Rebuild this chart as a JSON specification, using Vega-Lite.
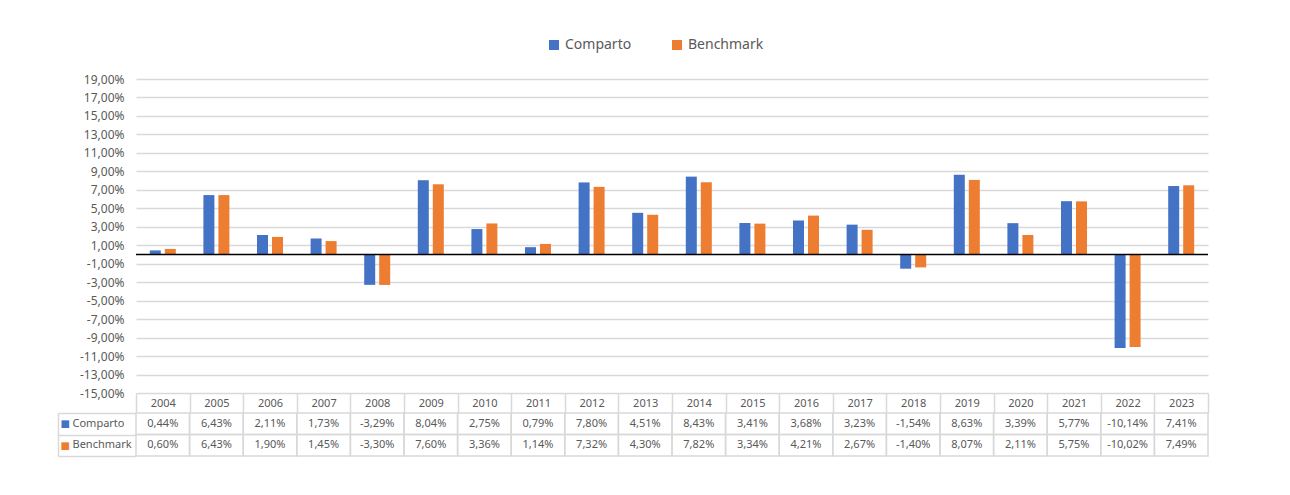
{
  "$schema": "https://vega.github.io/schema/vega-lite/v6.json",
  "padding": {"left": 57, "top": 38, "right": 5, "bottom": 5},
  "background": "white",
  "config": {
    "font": "Noto Sans",
    "view": {"stroke": null},
    "axis": {"labelColor": "#595959", "labelFont": "Noto Sans", "labelFontSize": 11}
  },
  "datasets": {
    "returns": [
      {"year": "2004", "series": "Comparto", "value": 0.44},
      {"year": "2005", "series": "Comparto", "value": 6.43},
      {"year": "2006", "series": "Comparto", "value": 2.11},
      {"year": "2007", "series": "Comparto", "value": 1.73},
      {"year": "2008", "series": "Comparto", "value": -3.29},
      {"year": "2009", "series": "Comparto", "value": 8.04},
      {"year": "2010", "series": "Comparto", "value": 2.75},
      {"year": "2011", "series": "Comparto", "value": 0.79},
      {"year": "2012", "series": "Comparto", "value": 7.80},
      {"year": "2013", "series": "Comparto", "value": 4.51},
      {"year": "2014", "series": "Comparto", "value": 8.43},
      {"year": "2015", "series": "Comparto", "value": 3.41},
      {"year": "2016", "series": "Comparto", "value": 3.68},
      {"year": "2017", "series": "Comparto", "value": 3.23},
      {"year": "2018", "series": "Comparto", "value": -1.54},
      {"year": "2019", "series": "Comparto", "value": 8.63},
      {"year": "2020", "series": "Comparto", "value": 3.39},
      {"year": "2021", "series": "Comparto", "value": 5.77},
      {"year": "2022", "series": "Comparto", "value": -10.14},
      {"year": "2023", "series": "Comparto", "value": 7.41},
      {"year": "2004", "series": "Benchmark", "value": 0.60},
      {"year": "2005", "series": "Benchmark", "value": 6.43},
      {"year": "2006", "series": "Benchmark", "value": 1.90},
      {"year": "2007", "series": "Benchmark", "value": 1.45},
      {"year": "2008", "series": "Benchmark", "value": -3.30},
      {"year": "2009", "series": "Benchmark", "value": 7.60},
      {"year": "2010", "series": "Benchmark", "value": 3.36},
      {"year": "2011", "series": "Benchmark", "value": 1.14},
      {"year": "2012", "series": "Benchmark", "value": 7.32},
      {"year": "2013", "series": "Benchmark", "value": 4.30},
      {"year": "2014", "series": "Benchmark", "value": 7.82},
      {"year": "2015", "series": "Benchmark", "value": 3.34},
      {"year": "2016", "series": "Benchmark", "value": 4.21},
      {"year": "2017", "series": "Benchmark", "value": 2.67},
      {"year": "2018", "series": "Benchmark", "value": -1.40},
      {"year": "2019", "series": "Benchmark", "value": 8.07},
      {"year": "2020", "series": "Benchmark", "value": 2.11},
      {"year": "2021", "series": "Benchmark", "value": 5.75},
      {"year": "2022", "series": "Benchmark", "value": -10.02},
      {"year": "2023", "series": "Benchmark", "value": 7.49}
    ]
  },
  "bounds": "flush",
  "spacing": 20,
  "vconcat": [
    {
      "width": 1072,
      "height": 314,
      "data": {"name": "returns"},
      "layer": [
        {
          "mark": {"type": "bar"},
          "encoding": {
            "x": {"field": "year", "type": "nominal", "scale": {"paddingInner": 0, "paddingOuter": 0}, "axis": null},
            "xOffset": {"field": "series", "type": "nominal", "sort": ["Comparto", "Benchmark"], "scale": {"paddingInner": 0.267, "paddingOuter": 0.92}},
            "y": {
              "field": "value", "type": "quantitative",
              "scale": {"domain": [-15, 19], "nice": false, "zero": false},
              "axis": {
                "title": null,
                "values": [-15, -13, -11, -9, -7, -5, -3, -1, 1, 3, 5, 7, 9, 11, 13, 15, 17, 19],
                "tickCount": 40,
                "labelOverlap": false,
                "grid": true, "gridColor": "#d9d9d9", "gridWidth": 1.5,
                "domain": false, "ticks": false, "labelPadding": 12, "labelFontSize": 12,
                "labelExpr": "replace(replace(format(datum.value, '.2f'), '.', ','), '−', '-') + '%'"
              }
            },
            "color": {
              "field": "series", "type": "nominal",
              "scale": {"domain": ["Comparto", "Benchmark"], "range": ["#4472C4", "#ED7D31"]},
              "legend": {"orient": "none", "legendX": 411, "legendY": -41, "title": null, "symbolType": "square", "symbolSize": 100, "symbolStrokeWidth": 0, "labelFontSize": 14, "labelOffset": 4, "labelColor": "#595959", "columnPadding": 38, "direction": "horizontal"}
            }
          }
        },
        {
          "data": {"values": [{"zero": 0}]},
          "mark": {"type": "rule", "color": "black", "strokeWidth": 1.5},
          "encoding": {"y": {"field": "zero", "type": "quantitative"}}
        }
      ]
    },
    {
      "width": 1072,
      "height": 43,
      "data": {"name": "returns"},
      "transform": [{"calculate": "replace(replace(format(datum.value, '.2f'), '.', ','), '−', '-') + '%'", "as": "label"}],
      "layer": [
        {
          "mark": {"type": "rect", "fill": "transparent", "stroke": "#d9d9d9", "strokeWidth": 1.5},
          "encoding": {
            "x": {
              "field": "year", "type": "nominal", "scale": {"paddingInner": 0, "paddingOuter": 0},
              "axis": {"orient": "top", "title": null, "ticks": true, "tickBand": "extent", "tickSize": 20, "tickColor": "#d9d9d9", "tickWidth": 1.5, "domain": false, "labelPadding": -15, "labelAngle": 0}
            },
            "y": {
              "field": "series", "type": "nominal", "sort": ["Comparto", "Benchmark"],
              "axis": {
                "orient": "left", "offset": 78, "title": null,
                "domain": true, "domainColor": "#d9d9d9", "domainWidth": 1.5,
                "ticks": true, "tickBand": "extent", "tickSize": -78, "tickColor": "#d9d9d9", "tickWidth": 1.5,
                "labelExpr": "datum.label ? '■' : ''",
                "labelFont": "DejaVu Sans",
                "labelFlush": false,
                "labelOverlap": false,
                "labelBaseline": "middle",
                "labelColor": {"condition": {"test": "datum.value === 'Comparto'", "value": "#4472C4"}, "value": "#ED7D31"},
                "labelAlign": "left", "labelPadding": 76, "labelFontSize": 10
              }
            }
          }
        },
        {
          "mark": {"type": "text", "color": "#595959", "fontSize": 11},
          "encoding": {
            "x": {"field": "year", "type": "nominal"},
            "y": {
              "field": "series", "type": "nominal", "sort": ["Comparto", "Benchmark"],
              "axis": {"orient": "left", "title": null, "domain": false, "ticks": false, "labelAlign": "left", "labelPadding": 64}
            },
            "text": {"field": "label"}
          }
        }
      ],
      "resolve": {"axis": {"y": "independent"}}
    }
  ]
}
